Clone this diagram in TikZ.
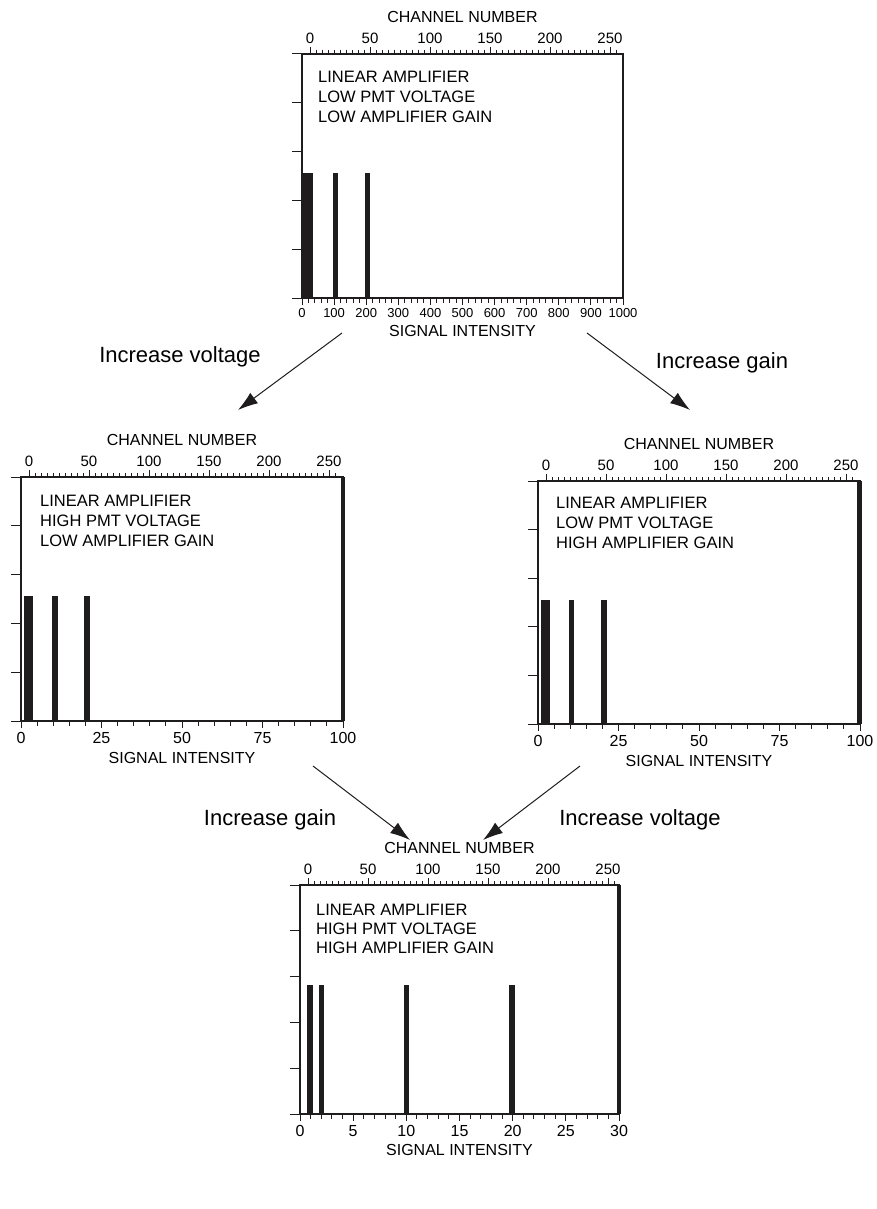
\documentclass[tikz,border=0pt]{standalone}
\usepackage{fontspec}
\setmainfont{Liberation Sans}
\usetikzlibrary{arrows.meta}
\definecolor{ink}{HTML}{1E1C1D}
\tikzset{
  frame/.style={draw=ink, line width=1.2pt},
  tick/.style={draw=ink, line width=1pt},
  bar/.style={fill=ink, draw=none},
  ttl/.style={inner sep=0pt, font=\fontsize{16}{19}\selectfont},
  chnum/.style={inner sep=0pt, font=\fontsize{15}{18}\selectfont},
  smnum/.style={inner sep=0pt, font=\fontsize{13}{16}\selectfont},
  bignum/.style={inner sep=0pt, font=\fontsize{16}{19}\selectfont},
  info/.style={anchor=west, inner sep=0pt, font=\fontsize{16.5}{19}\selectfont},
  lbl/.style={inner sep=0pt, font=\fontsize{22}{26}\selectfont},
  arr/.style={draw=ink, line width=1pt, -{Latex[length=20pt,width=13pt]}}
}
% #1 L, #2 T, #3 R, #4 B, #5 name
\newcommand\mkframe[5]{%
  \draw[frame] (#1,#2) rectangle (#3,#4);
  \foreach \k in {0,...,5} {\pgfmathsetmacro\yy{#2+(#4-#2)*\k/5}
    \draw[tick] (#1-10,\yy) -- (#1,\yy);}
  \foreach \i in {0,...,51} {\pgfmathsetmacro\xx{#1+8+\i*6}
    \pgfmathsetmacro\len{mod(\i,10)==0?7:4}
    \draw[tick] (\xx,#2) -- (\xx,#2-\len);}
  \foreach \c [count=\k from 0] in {0,50,...,250} {\pgfmathsetmacro\xx{#1+8+\k*60}
    \node[chnum] (#5c\k) at (\xx,#2-16) {\c};}
  \node[ttl] (#5ttl) at ({(#1+#3)/2},#2-37) {CHANNEL NUMBER};
}
% #1 L, #2 R, #3 B, #4 intervals, #5 major every, #6 labels, #7 label count-1, #8 style, #9 name
\newcommand\mkbottom[9]{%
  \foreach \i in {0,...,#4} {\pgfmathsetmacro\xx{#1+(#2-#1)*\i/#4}
    \pgfmathsetmacro\len{mod(\i,#5)==0?7:5}
    \draw[tick] (\xx,#3) -- (\xx,#3+\len);}
  \foreach \v [count=\k from 0] in {#6} {\pgfmathsetmacro\xx{#1+(#2-#1)*\k/#7}
    \node[#8] (#9n\k) at (\xx,#3+17) {\v};}
}
\begin{document}
\begin{tikzpicture}[x=1pt,y=-1pt]
\useasboundingbox (0,0) rectangle (877,1209);

% ---------- top panel ----------
\fill[bar] (301,173) rectangle (312.7,298);
\fill[bar] (333.3,173) rectangle (338.3,298);
\fill[bar] (365,173) rectangle (370,298);
\mkframe{302}{54}{623}{298}{p1}
\foreach \i in {0,...,50} {\pgfmathsetmacro\xx{302+321*\i/50}
  \pgfmathsetmacro\len{mod(\i,5)==0?7:5}
  \draw[tick] (\xx,298) -- (\xx,298+\len);}
\foreach \v [count=\k from 0] in {0,100,200,300,400,500,600,700,800,900,1000} {\pgfmathsetmacro\xx{302+32.1*\k}
  \node[smnum] (p1n\k) at (\xx,313) {\v};}
\node[ttl] (p1sig) at (462.5,331) {SIGNAL INTENSITY};
\node[info] (p1t1) at (318,77) {LINEAR AMPLIFIER};
\node[info] (p1t2) at (318,97) {LOW PMT VOLTAGE};
\node[info] (p1t3) at (318,117) {LOW AMPLIFIER GAIN};

% ---------- middle left panel ----------
\fill[bar] (24,596) rectangle (32.7,721);
\fill[bar] (52.3,596) rectangle (57.7,721);
\fill[bar] (84,596) rectangle (90,721);
\mkframe{21}{477}{343}{721}{p2}
\fill[bar] (340.7,477) rectangle (345,721);
\mkbottom{21}{343}{721}{20}{5}{0,25,50,75,100}{4}{bignum}{p2}
\node[ttl] (p2sig) at (182,758) {SIGNAL INTENSITY};
\node[info] (p2t1) at (40,501) {LINEAR AMPLIFIER};
\node[info] (p2t2) at (40,521) {HIGH PMT VOLTAGE};
\node[info] (p2t3) at (40,541) {LOW AMPLIFIER GAIN};

% ---------- middle right panel ----------
\fill[bar] (540.7,600) rectangle (550,724);
\fill[bar] (569,600) rectangle (574.3,724);
\fill[bar] (601,600) rectangle (606.7,724);
\mkframe{538}{481}{860}{724}{p3}
\fill[bar] (857.3,481) rectangle (861.7,724);
\mkbottom{538}{860}{724}{20}{5}{0,25,50,75,100}{4}{bignum}{p3}
\node[ttl] (p3sig) at (699,761) {SIGNAL INTENSITY};
\node[info] (p3t1) at (556,503) {LINEAR AMPLIFIER};
\node[info] (p3t2) at (556,523) {LOW PMT VOLTAGE};
\node[info] (p3t3) at (556,543) {HIGH AMPLIFIER GAIN};

% ---------- bottom panel ----------
\fill[bar] (307.3,985) rectangle (312.7,1114);
\fill[bar] (319,985) rectangle (324.3,1114);
\fill[bar] (404,985) rectangle (409.3,1114);
\fill[bar] (509.3,985) rectangle (515,1114);
\mkframe{300}{885}{619}{1114}{p4}
\fill[bar] (616.7,885) rectangle (621.3,1114);
\mkbottom{300}{619}{1114}{30}{5}{0,5,10,15,20,25,30}{6}{bignum}{p4}
\node[ttl] (p4sig) at (459.5,1150) {SIGNAL INTENSITY};
\node[info] (p4t1) at (316,910) {LINEAR AMPLIFIER};
\node[info] (p4t2) at (316,929) {HIGH PMT VOLTAGE};
\node[info] (p4t3) at (316,948) {HIGH AMPLIFIER GAIN};

% ---------- arrows ----------
\coordinate (a1s) at (342,333); \coordinate (a1e) at (238,410);
\coordinate (a2s) at (587,333); \coordinate (a2e) at (690,410);
\coordinate (a3s) at (313,766); \coordinate (a3e) at (410,840);
\coordinate (a4s) at (580,766); \coordinate (a4e) at (483,840);
\draw[arr] (a1s) -- (a1e);
\draw[arr] (a2s) -- (a2e);
\draw[arr] (a3s) -- (a3e);
\draw[arr] (a4s) -- (a4e);
\node[lbl] (l1) at (180,357) {Increase voltage};
\node[lbl] (l2) at (722,363) {Increase gain};
\node[lbl] (l3) at (270,820) {Increase gain};
\node[lbl] (l4) at (640,820) {Increase voltage};
\end{tikzpicture}
\end{document}
